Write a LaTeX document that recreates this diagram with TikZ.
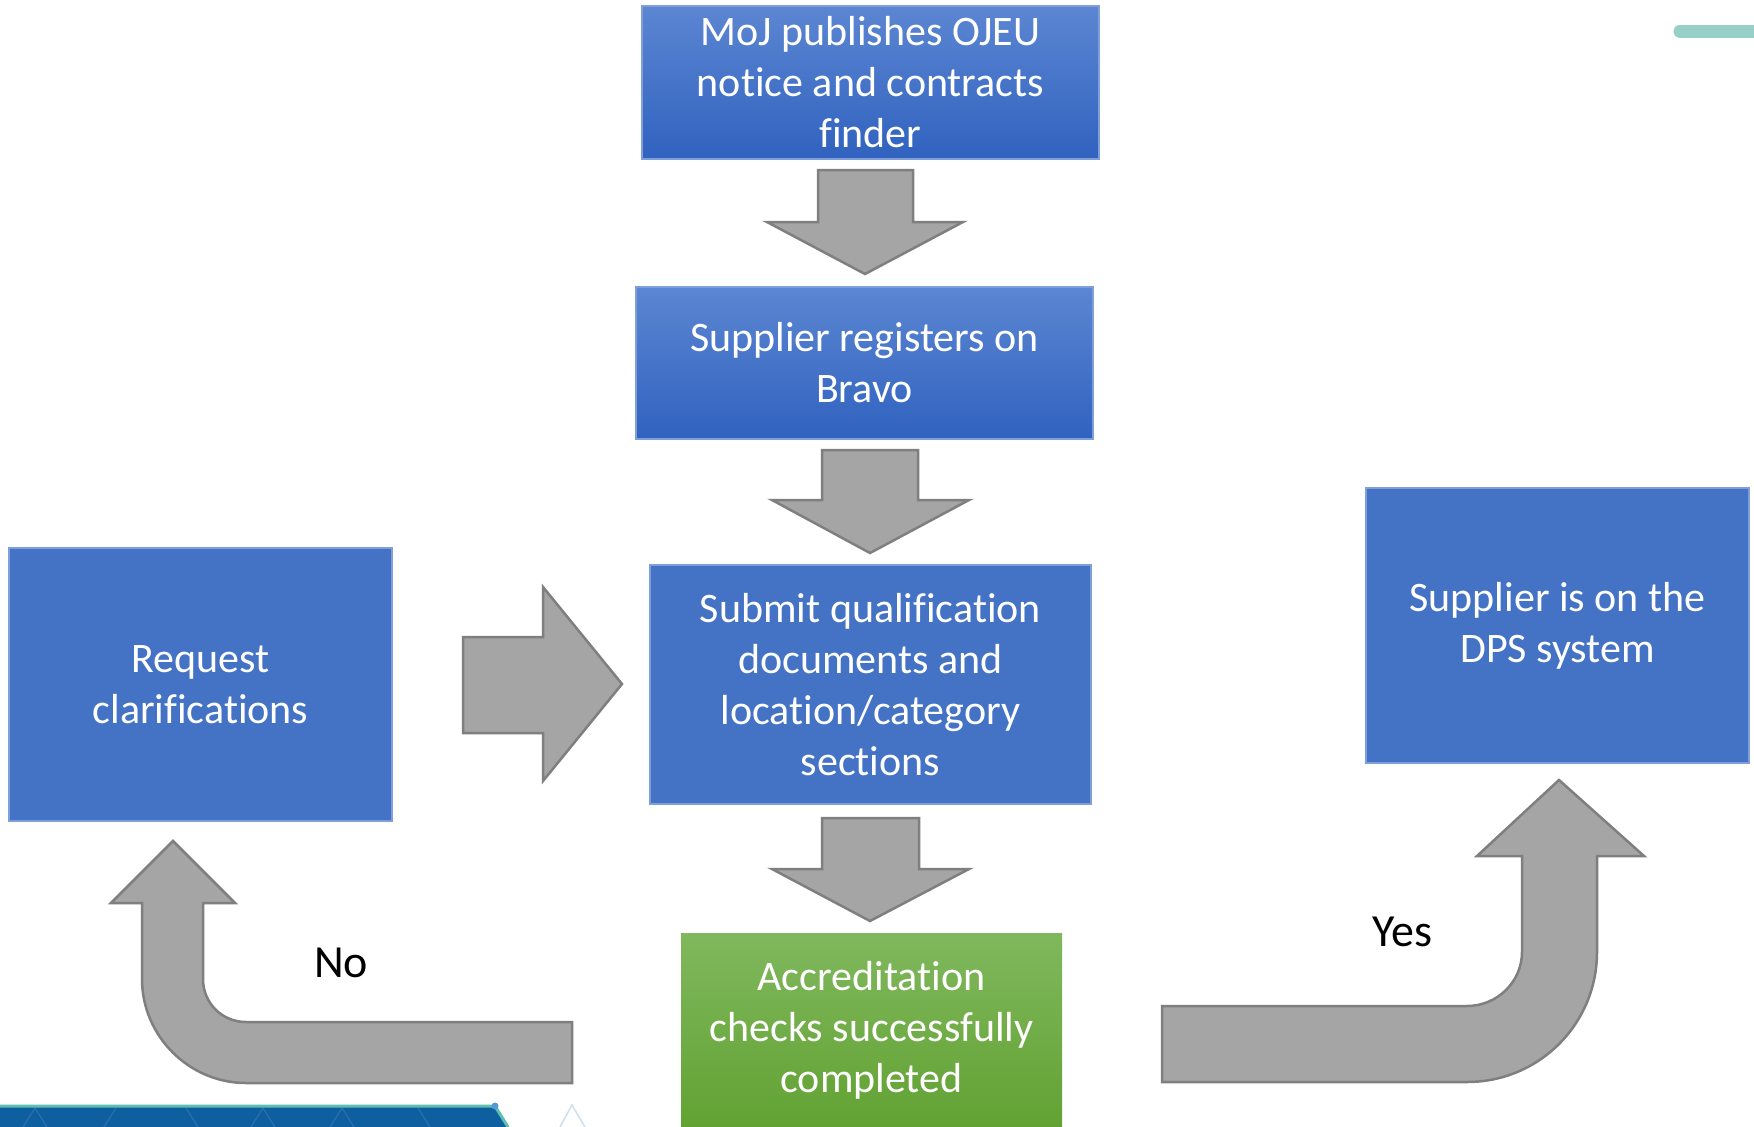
\documentclass[tikz,border=0pt]{standalone}
\usepackage{fontspec}
\setmainfont{Carlito}[Ligatures=CommonOff]
\definecolor{boxblue}{HTML}{4472C4}
\definecolor{boxedge}{HTML}{7F9FDB}
\definecolor{gradtop}{HTML}{5C86D2}
\definecolor{gradbot}{HTML}{3062BF}
\definecolor{greentop}{HTML}{80B85D}
\definecolor{greenbot}{HTML}{62A233}
\definecolor{arrowfill}{HTML}{A5A5A5}
\definecolor{arrowedge}{HTML}{7F7F7F}
\definecolor{barblue}{HTML}{0E5FA0}
\definecolor{barteal}{HTML}{5DBFB0}
\definecolor{barline}{HTML}{2B6FAD}
\definecolor{tealpill}{HTML}{96D0C8}
\definecolor{triedge}{HTML}{CFE0F0}
\begin{document}
\begin{tikzpicture}[x=1pt,y=-1pt,
  boxtext/.style={text=white,align=center,font=\fontsize{42}{51}\selectfont,inner sep=0pt},
  gradbox/.style={boxtext,draw=boxedge,line width=1.5pt,top color=gradtop,bottom color=gradbot},
  flatbox/.style={boxtext,draw=boxedge,line width=1.5pt,fill=boxblue},
  greenbox/.style={boxtext,draw=none,top color=greentop,bottom color=greenbot},
  blockarrow/.style={fill=arrowfill,draw=arrowedge,line width=2.5pt,line join=miter},
  answer/.style={text=black,font=\fontsize{46}{55}\selectfont,inner sep=0pt}]
\useasboundingbox (0,0) rectangle (1754,1127);
\fill[white] (0,0) rectangle (1754,1127);

% boxes
\node[gradbox,minimum width=457pt,minimum height=153pt] (moj) at (870.5,82.5)
  {MoJ publishes OJEU\\notice and contracts\\finder};
\node[gradbox,minimum width=457pt,minimum height=152pt] (reg) at (864.5,363)
  {Supplier registers on\\Bravo};
\node[flatbox,minimum width=441pt,minimum height=239pt] (sub) at (870.5,684.5)
  {Submit qualification\\documents and\\location/category\\sections};
\node[greenbox,minimum width=381pt,minimum height=194pt] (acc) at (871.5,1030)
  {Accreditation\\checks successfully\\completed};
\node[flatbox,minimum width=383pt,minimum height=273pt] (req) at (200.5,684.5)
  {Request\\clarifications};
\node[flatbox,minimum width=383pt,minimum height=275pt] (dps) at (1557.5,625.5)
  {Supplier is on the\\DPS system};

% down arrows
\draw[blockarrow] (818,170) -- (913,170) -- (913,222) -- (963,222) -- (865,274)
  -- (767,222) -- (818,222) -- cycle;
\draw[blockarrow] (822,450) -- (918,450) -- (918,500) -- (969,500) -- (870,553)
  -- (772,500) -- (822,500) -- cycle;
\draw[blockarrow] (822,818) -- (919,818) -- (919,869) -- (969,869) -- (870,921)
  -- (772,869) -- (822,869) -- cycle;
% right arrow
\draw[blockarrow] (463,637) -- (543,637) -- (543,587) -- (622,684) -- (543,781)
  -- (543,733) -- (463,733) -- cycle;

% No arrow
\draw[blockarrow] (173,841) -- (235,903) -- (203,903) -- (203,979)
  .. controls (203,1003) and (222,1022) .. (246,1022) -- (572,1022) -- (572,1083)
  -- (246,1083) .. controls (189,1083) and (142,1036) .. (142,979)
  -- (142,903) -- (111,903) -- cycle;
% Yes arrow
\draw[blockarrow] (1559,780) -- (1644,856) -- (1597,856) -- (1597,952)
  .. controls (1597,1024) and (1539,1082) .. (1467,1082) -- (1162,1082)
  -- (1162,1006) -- (1467,1006) .. controls (1497,1006) and (1522,982) .. (1522,952)
  -- (1522,856) -- (1477,856) -- cycle;

\node[answer] (no) at (341,963) {No};
\node[answer] (yes) at (1402,932) {Yes};

% decorations
\draw[tealpill,line width=13pt,line cap=round] (1680,31) -- (1760,31);
\fill[barblue] (0,1106) -- (495,1106) -- (508,1127) -- (0,1127) -- cycle;
\begin{scope}[barline,line width=1.2pt]
\draw (23,1127) -- (35,1108) -- (47,1127);
\draw (116,1108) -- (104,1127);
\draw (186,1108) -- (198,1127);
\draw (251,1127) -- (263,1108) -- (275,1127);
\draw (330,1127) -- (342,1108) -- (354,1127);
\draw (418,1108) -- (430,1127);
\end{scope}
\draw[barteal,line width=3pt] (0,1106) -- (495,1106) -- (508,1127);
\fill[cyan!60!blue!70] (495,1106) circle (3.5pt);
\draw[triedge,line width=1.5pt] (560,1127) -- (572,1105) -- (585,1127);
\end{tikzpicture}
\end{document}
